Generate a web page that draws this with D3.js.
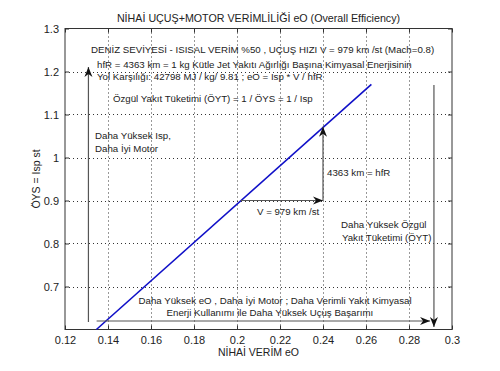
<!DOCTYPE html>
<html>
<head>
<meta charset="utf-8">
<script src="https://cdn.jsdelivr.net/npm/d3@7"></script>
<style>
  body { margin: 0; background: #fff; }
  text { font-family: "Liberation Sans", Arial, sans-serif; fill: #222; }
</style>
</head>
<body>
<svg id="chart" width="500" height="371"></svg>
<script>
// overall efficiency eO vs specific impulse Isp (st)
var effValues = [0.1346, 0.2625]
var ispValues = [0.6, 1.17]
var xTicks = [0.12, 0.14, 0.16, 0.18, 0.2, 0.22, 0.24, 0.26, 0.28, 0.3]
var yTicks = [0.7, 0.8, 0.9, 1, 1.1, 1.2, 1.3]

// annotation arrows, in data units [eO, Isp]
var arrows = [
    { from: [0.2017, 0.9], to: [0.24, 0.9] },
    { from: [0.24, 0.9], to: [0.24, 1.0716] },
    { from: [0.1309, 0.6174], to: [0.1309, 1.2105] },
    { from: [0.2916, 1.1686], to: [0.2916, 0.6058] },
    { from: [0.1347, 0.6198], to: [0.2898, 0.6198] }
]

// annotation texts, in data units
var notes = [
    { x: 0.1321, y: 1.2430, t: 'DENİZ SEVİYESİ - ISISAL VERİM %50 , UÇUŞ HIZI V = 979 km /st (Mach=0.8)' },
    { x: 0.1349, y: 1.2081, t: 'hfR = 4363 km = 1 kg Kütle Jet Yakıtı Ağırlığı Başına Kimyasal Enerjisinin' },
    { x: 0.1349, y: 1.1802, t: 'Yol Karşılığı: 42798 MJ / kg/ 9.81 ; eO = Isp * V / hfR' },
    { x: 0.1423, y: 1.1291, t: 'Özgül Yakıt Tüketimi (ÖYT) = 1 / ÖYS = 1 / Isp' },
    { x: 0.1340, y: 1.0430, t: 'Daha Yüksek Isp,' },
    { x: 0.1340, y: 1.0128, t: 'Daha İyi Motor' },
    { x: 0.2419, y: 0.9570, t: '4363 km = hfR' },
    { x: 0.2093, y: 0.8663, t: 'V = 979 km /st' },
    { x: 0.2484, y: 0.8360, t: 'Daha Yüksek Özgül' },
    { x: 0.2488, y: 0.8058, t: 'Yakıt Tüketimi (ÖYT)' },
    { x: 0.2177, y: 0.6593, t: 'Daha Yüksek eO , Daha İyi Motor ; Daha Verimli Yakıt Kimyasal', anchor: 'middle' },
    { x: 0.2153, y: 0.6314, t: 'Enerji Kullanımı ile Daha Yüksek Uçuş Başarımı', anchor: 'middle' }
]

var margin = { left: 65, top: 28.5, right: 48, bottom: 41.5 }
var width = 500, height = 371
var svg = d3.select('#chart')

var x = d3.scaleLinear().domain([0.12, 0.3]).range([margin.left, width - margin.right])
var y = d3.scaleLinear().domain([0.6, 1.3]).range([height - margin.bottom, margin.top])

var g = svg.append('g')

// dotted grid
g.selectAll('.gx')
    .data(xTicks.slice(1, -1))
    .enter().append('line')
    .attr('x1', function (d) { return Math.round(x(d)) + 0.5 })
    .attr('x2', function (d) { return Math.round(x(d)) + 0.5 })
    .attr('y1', y.range()[1]).attr('y2', y.range()[0])
    .attr('stroke', '#333').attr('stroke-dasharray', '1,3')
g.selectAll('.gy')
    .data(yTicks.slice(0, -1))
    .enter().append('line')
    .attr('y1', function (d) { return Math.round(y(d)) + 0.5 })
    .attr('y2', function (d) { return Math.round(y(d)) + 0.5 })
    .attr('x1', x.range()[0]).attr('x2', x.range()[1])
    .attr('stroke', '#333').attr('stroke-dasharray', '1,3')

// axes, ticks inward on all four sides
var bottomAxis = d3.axisBottom(x).tickValues(xTicks).tickSize(-4).tickPadding(7).tickFormat(d3.format('~g'))
var leftAxis = d3.axisLeft(y).tickValues(yTicks).tickSize(-4).tickPadding(6).tickFormat(d3.format('~g'))
var topAxis = d3.axisTop(x).tickValues(xTicks).tickSize(-4).tickFormat('')
var rightAxis = d3.axisRight(y).tickValues(yTicks).tickSize(-4).tickFormat('')

function styleAxis(sel) {
    sel.select('.domain').remove()
    sel.selectAll('line').attr('stroke', '#333')
    sel.selectAll('text').attr('font-size', 11).attr('fill', '#222')
        .style('font-family', '"Liberation Sans", Arial, sans-serif')
}
g.append('g').attr('transform', 'translate(0,' + y.range()[0] + ')').call(bottomAxis).call(styleAxis)
g.append('g').attr('transform', 'translate(' + x.range()[0] + ',0)').call(leftAxis).call(styleAxis)
g.append('g').attr('transform', 'translate(0,' + y.range()[1] + ')').call(topAxis).call(styleAxis)
g.append('g').attr('transform', 'translate(' + x.range()[1] + ',0)').call(rightAxis).call(styleAxis)

g.append('rect')
    .attr('x', x.range()[0]).attr('y', y.range()[1])
    .attr('width', x.range()[1] - x.range()[0])
    .attr('height', y.range()[0] - y.range()[1])
    .attr('fill', 'none').attr('stroke', '#333')

// efficiency line
var lineData = effValues.map(function (e, i) { return [e, ispValues[i]] })
g.append('path')
    .datum(lineData)
    .attr('d', d3.line().x(function (d) { return x(d[0]) }).y(function (d) { return y(d[1]) }))
    .attr('fill', 'none').attr('stroke', '#1010c8').attr('stroke-width', 1.6)

// arrows
arrows.forEach(function (a) {
    var x1 = x(a.from[0]), y1 = y(a.from[1]), x2 = x(a.to[0]), y2 = y(a.to[1])
    var ang = Math.atan2(y2 - y1, x2 - x1) * 180 / Math.PI
    g.append('line')
        .attr('x1', x1).attr('y1', y1).attr('x2', x2).attr('y2', y2)
        .attr('stroke', '#555').attr('stroke-width', 1.2)
    g.append('path')
        .attr('d', 'M0,0 L-10,-4 L-7,0 L-10,4 Z')
        .attr('transform', 'translate(' + x2 + ',' + y2 + ') rotate(' + ang + ')')
        .attr('fill', '#111')
})

// notes
g.selectAll('.note')
    .data(notes)
    .enter().append('text')
    .attr('class', 'note')
    .attr('x', function (d) { return x(d.x) })
    .attr('y', function (d) { return y(d.y) })
    .attr('text-anchor', function (d) { return d.anchor || 'start' })
    .attr('font-size', 9.7)
    .text(function (d) { return d.t })

// titles
svg.append('text')
    .attr('x', (x.range()[0] + x.range()[1]) / 2).attr('y', 22)
    .attr('text-anchor', 'middle').attr('font-size', 10.7)
    .text('NİHAİ UÇUŞ+MOTOR VERİMLİLİĞİ eO (Overall Efficiency)')
svg.append('text')
    .attr('x', (x.range()[0] + x.range()[1]) / 2).attr('y', 356)
    .attr('text-anchor', 'middle').attr('font-size', 10.5)
    .text('NİHAİ VERİM eO')
svg.append('text')
    .attr('transform', 'translate(40,' + (y.range()[0] + y.range()[1]) / 2 + ') rotate(-90)')
    .attr('text-anchor', 'middle').attr('font-size', 10.5)
    .text('ÖYS = Isp st')
</script>
</body>
</html>
